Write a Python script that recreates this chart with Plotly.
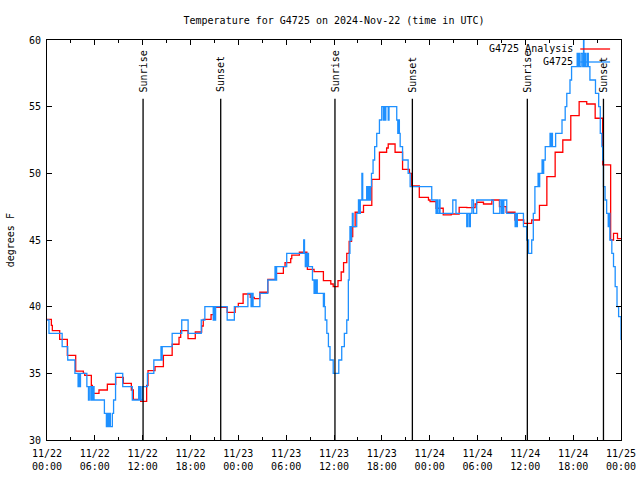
import plotly.graph_objects as go
import pandas as pd

# ---- data (hours after 2024-11-22 00:00 UTC) ----
red_hours = [0, 0.55, 0.67, 1.59, 2.55, 3.6, 4.56, 4.73, 5.56, 5.69,
             6.52, 7.57, 8.62, 9.58, 10.58, 10.83, 11.75, 12.5, 12.67, 13.55,
             14.6, 15.7, 16.56, 16.77, 17.69, 18.6, 19.4, 19.6, 20.58, 21.08,
             22.6, 23.6, 24.0, 24.6, 25.5, 26.0, 26.7, 27.7, 28.7, 29.65,
             29.86, 30.57, 30.7, 31.66, 32.6, 32.66, 33.5, 34.67, 35.6, 35.9,
             36.5, 36.9, 37.2, 37.6, 37.9, 38.2, 38.35, 38.65, 39.7, 40.74,
             41.7, 42.6, 42.8, 43.66, 44.6, 45.46, 45.75, 46.7, 47.85, 48.05,
             48.8, 49.7, 50.7, 51.7, 52.66, 53.7, 53.9, 54.75, 55.8, 56.75,
             57.6, 58.7, 59.8, 60.8, 61.77, 62.7, 63.74, 64.7, 65.7, 66.75,
             67.7, 68.76, 69.7, 70.7, 71.06, 71.56, 72]
red_temps = [39.05, 38.6, 38.2, 37.55, 36.35, 35.17, 35.0, 34.85, 34.1, 33.5,
             33.75, 34.18, 34.7, 34.25, 33.75, 33.05, 32.9, 34.1, 35.2, 35.5,
             36.35, 37.18, 37.7, 38.2, 37.6, 38.1, 38.55, 39.05, 39.4, 39.95,
             39.57, 40.0, 40.25, 40.95, 40.7, 40.6, 41.08, 42.05, 42.5, 43.0,
             43.3, 43.6, 43.87, 44.08, 43.3, 42.8, 42.63, 41.95, 41.7, 41.5,
             41.95, 42.6, 43.3, 44.0, 44.9, 45.25, 46.0, 47.08, 47.6, 49.55,
             51.58, 51.9, 52.2, 51.58, 50.3, 50.0, 49.05, 48.2, 48.0, 47.88,
             47.38, 46.88, 46.95, 47.45, 47.43, 47.7, 47.83, 47.7, 48.0, 47.5,
             47.08, 46.5, 46.25, 46.5, 47.6, 49.75, 51.58, 52.5, 54.33, 55.38,
             55.2, 54.13, 50.63, 45.0, 45.5, 45.1, 45.1]

blue_hours = [0, 0.25, 1.9, 2.6, 3.5, 3.9, 4.0, 4.1, 4.2, 5.0,
              5.2, 5.3, 5.5, 5.6, 5.7, 5.8, 5.9, 7.2, 7.45, 7.6,
              7.7, 7.85, 7.95, 8.2, 8.35, 8.6, 9.5, 10.7, 11.5, 11.6,
              11.7, 11.8, 12.0, 12.6, 13.4, 14.3, 14.35, 14.45, 15.7, 16.9,
              17.7, 19.35, 19.8, 20.85, 20.95, 21.05, 21.15, 22.6, 23.5, 25.2,
              25.6, 25.7, 25.85, 26.1, 26.7, 27.7, 28.6, 28.7, 28.8, 30.07,
              32.2, 32.3, 32.4, 32.5, 32.6, 32.7, 32.8, 33.3, 33.5, 33.6,
              33.7, 33.8, 33.9, 34.67, 34.75, 34.8, 34.9, 35.1, 35.3, 35.5,
              35.9, 36.6, 36.97, 37.3, 37.6, 37.8, 37.9, 38.0, 38.1, 38.2,
              38.3, 38.4, 38.85, 39.07, 39.2, 39.3, 39.5, 39.6, 40.1, 40.2,
              40.35, 40.5, 40.6, 40.7, 40.9, 41.1, 41.36, 41.7, 41.99, 42.2,
              42.3, 42.4, 42.5, 42.8, 42.9, 43.87, 44.0, 44.1, 44.2, 44.3,
              44.6, 45.3, 45.55, 48.26, 48.8, 48.9, 49.0, 49.2, 49.3, 50.9,
              51.3, 52.65, 52.8, 53.0, 53.1, 53.3, 53.5, 53.9, 56.0, 56.8,
              57.0, 57.1, 57.2, 57.3, 57.67, 58.72, 58.8, 58.9, 59.0, 59.76,
              60.18, 60.4, 60.8, 61.0, 61.2, 61.6, 61.7, 61.8, 62.1, 62.2,
              62.3, 62.5, 63.1, 63.2, 63.3, 63.4, 63.8, 64.6, 65.0, 65.2,
              65.6, 65.8, 66.5, 66.6, 66.7, 66.8, 67.0, 67.2, 67.3, 67.35,
              67.5, 67.6, 67.8, 67.9, 68.1, 68.8, 69.2, 69.4, 69.6, 69.7,
              69.8, 70.0, 70.2, 70.4, 70.5, 70.6, 70.85, 71.06, 71.27, 71.5,
              71.7, 72.0]
blue_temps = [39, 38, 37, 36, 35, 34, 35, 34, 35, 34,
              33, 34, 33, 34, 33, 34, 33, 32, 31, 32,
              31, 32, 31, 32, 33, 35, 34, 33, 34, 33,
              34, 33, 34, 35, 36, 37, 36, 37, 38, 39,
              38, 39, 40, 39, 40, 39, 40, 39, 40, 41,
              40, 41, 40, 40, 41, 42, 43, 42, 43, 44,
              45, 44, 43, 44, 43, 44, 43, 42, 41, 42,
              41, 42, 41, 40, 41, 40, 39, 38, 37, 36,
              35, 36, 37, 38, 39, 42, 44, 46, 45, 46,
              47, 46, 47, 48, 47, 48, 50, 48, 49, 48,
              49, 48, 49, 50, 51, 52, 53, 54, 55, 54,
              55, 54, 55, 54, 55, 54, 53, 54, 53, 52,
              51, 50, 49, 48, 47, 48, 47, 48, 47, 48,
              47, 46, 47, 46, 47, 48, 47, 48, 47, 48,
              47, 48, 47, 48, 47, 46, 47, 46, 47, 46,
              45, 44, 45, 47, 49, 50, 49, 50, 51, 50,
              51, 52, 53, 52, 53, 52, 53, 54, 55, 56,
              57, 58, 59, 58, 59, 58, 59, 58, 60, 58,
              59, 58, 59, 58, 57, 56, 55, 53, 52, 51,
              49, 48, 47, 46, 47, 45, 44, 43, 41.5, 40,
              39.25, 37.5]

sun_labels = ["Sunrise", "Sunset", "Sunrise", "Sunset", "Sunrise", "Sunset"]
sun_hours = [12.05, 21.79, 36.12, 45.83, 60.25, 69.8]

tick_hours = list(range(0, 73, 6))

series_names = ["G4725 Analysis", "G4725"]
series_colors = ["#ff0000", "#1e90ff"]

# ---- build ----
base = pd.Timestamp("2024-11-22 00:00")


def to_time(hours):
    return [base + pd.Timedelta(hours=h) for h in hours]


FONT = "DejaVu Sans Mono"
LW = 1.3
fig = go.Figure()
fig.add_trace(go.Scatter(x=to_time(red_hours), y=red_temps, mode="lines",
                         name=series_names[0], showlegend=False, hoverinfo="skip",
                         line=dict(color=series_colors[0], width=LW, shape="hv")))
fig.add_trace(go.Scatter(x=to_time(blue_hours), y=blue_temps, mode="lines",
                         name=series_names[1], showlegend=False, hoverinfo="skip",
                         line=dict(color=series_colors[1], width=LW, shape="hv")))

for lbl, h in zip(sun_labels, sun_hours):
    tt = base + pd.Timedelta(hours=h)
    fig.add_shape(type="line", xref="x", yref="paper", x0=tt, x1=tt, y0=0, y1=0.853,
                  line=dict(color="black", width=1.3))
    fig.add_annotation(x=tt, xref="x", y=0.864, yref="paper", text=lbl, textangle=-90,
                       showarrow=False, xanchor="center", yanchor="bottom",
                       font=dict(family=FONT, size=10, color="black"))

# key (gnuplot style: text right-aligned, sample line on the right)
for i, (nm, col) in enumerate(zip(series_names, series_colors)):
    yk = 0.9775 - i * 0.0325
    fig.add_annotation(x=0.92, xref="paper", y=yk, yref="paper", text=nm, showarrow=False,
                       xanchor="right", yanchor="middle",
                       font=dict(family=FONT, size=10, color="black"))
    fig.add_shape(type="line", xref="paper", yref="paper", x0=0.929, x1=0.981, y0=yk, y1=yk,
                  line=dict(color=col, width=LW))

# y-axis title placed like gnuplot's ylabel
fig.add_annotation(x=-0.064, xref="paper", y=0.5, yref="paper", text="degrees F",
                   textangle=-90, showarrow=False, xanchor="center", yanchor="middle",
                   font=dict(family=FONT, size=10, color="black"))

tick_vals = to_time(tick_hours)
tick_text = [d.strftime("%m/%d") + "<br>" + d.strftime("%H:%M") for d in tick_vals]

fig.update_layout(
    width=640, height=480,
    margin=dict(l=47, r=19, t=40, b=40),
    paper_bgcolor="white", plot_bgcolor="white",
    font=dict(family=FONT, size=10, color="black"),
    title=dict(text="Temperature for G4725 on 2024-Nov-22 (time in UTC)",
               x=0.5, xref="paper", xanchor="center",
               y=1 - 20 / 480, yref="container", yanchor="middle",
               font=dict(family=FONT, size=10, color="black")),
    showlegend=False,
    hovermode=False,
)
fig.update_xaxes(
    range=[base, base + pd.Timedelta(hours=72)], automargin=False,
    showline=True, linecolor="black", linewidth=1, mirror="ticks",
    ticks="inside", ticklen=5, tickcolor="black", tickwidth=1,
    tickvals=tick_vals, ticktext=tick_text, ticklabelstandoff=4,
    tickfont=dict(family=FONT, size=10, color="black"),
    showgrid=False, zeroline=False,
    minor=dict(ticks="inside", ticklen=3, tickcolor="black", dtick=3 * 3600000,
               tick0=base, showgrid=False),
)
fig.update_yaxes(
    range=[30, 60], dtick=5, tick0=30, automargin=False,
    showline=True, linecolor="black", linewidth=1, mirror="ticks",
    ticks="inside", ticklen=5, tickcolor="black", tickwidth=1,
    ticklabelstandoff=3,
    tickfont=dict(family=FONT, size=10, color="black"),
    showgrid=False, zeroline=False,
)

fig.write_html("out.html", config={"displayModeBar": False},
               post_script="document.body.style.margin='0';")
